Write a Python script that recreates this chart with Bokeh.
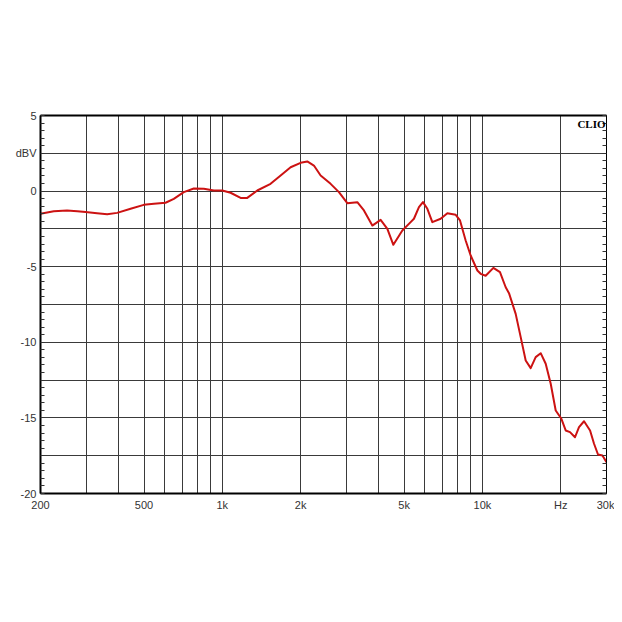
import numpy as np
from bokeh.plotting import figure
from bokeh.models import FixedTicker, LinearAxis, LogAxis, Label, CustomJSTickFormatter
from bokeh.embed import file_html
from bokeh.resources import INLINE

# Frequency response (Hz, dBV)
freq = [200, 225, 253, 277, 298, 330, 361, 394, 444, 499, 546, 605, 651, 711, 777, 849, 928,
        1000, 1076, 1176, 1247, 1363, 1533, 1676, 1831, 2000, 2122, 2250, 2388, 2609, 2808,
        3024, 3304, 3504, 3774, 4062, 4311, 4546, 4922, 5298, 5455, 5702, 5908, 6143, 6420,
        6911, 7333, 7896, 8202, 8623, 9013, 9565, 9848, 10292, 11022, 11684, 12290, 12654,
        13426, 14036, 14671, 15333, 16026, 16755, 17513, 18308, 19136, 20125, 20902, 21720,
        22700, 23520, 24590, 25940, 26870, 27830, 28940, 30000]
level = [-1.50, -1.33, -1.28, -1.33, -1.39, -1.46, -1.53, -1.44, -1.17, -0.91, -0.84, -0.77,
         -0.51, -0.07, 0.17, 0.15, 0.04, 0.04, -0.11, -0.45, -0.45, 0.04, 0.48, 1.03, 1.58,
         1.87, 1.96, 1.69, 1.03, 0.48, -0.07, -0.80, -0.73, -1.28, -2.28, -1.90, -2.50, -3.55,
         -2.61, -2.05, -1.83, -1.06, -0.73, -1.17, -2.05, -1.83, -1.46, -1.57, -1.94, -3.27,
         -4.26, -5.25, -5.47, -5.60, -5.08, -5.36, -6.36, -6.75, -8.12, -9.66, -11.2, -11.71,
         -10.98, -10.72, -11.42, -12.74, -14.51, -15.06, -15.83, -15.94, -16.28, -15.61,
         -15.22, -15.83, -16.71, -17.42, -17.49, -17.93]

x_label_ticks = [200, 500, 1000, 2000, 5000, 10000, 20000, 30000]
x_label_text = ["200", "500", "1k", "2k", "5k", "10k", "Hz", "30k"]
x_grid_ticks = [300, 400, 500, 600, 700, 800, 900, 1000, 2000, 3000, 4000, 5000, 6000,
                7000, 8000, 9000, 10000, 20000]
y_label_ticks = [-20, -15, -10, -5, 0, 2.5, 5]
y_label_text = ["-20", "-15", "-10", "-5", "0", "dBV", "5"]
y_grid_ticks = [-17.5, -15, -12.5, -10, -7.5, -5, -2.5, 0, 2.5]
y_minor = [round(v, 1) for v in np.arange(-20, 5.01, 0.5)]

p = figure(width=614, height=614, x_axis_type="log", x_range=(200, 30000), y_range=(-20, 5),
           output_backend="svg", toolbar_location=None,
           min_border_left=40, min_border_right=8, min_border_top=115, min_border_bottom=121)
p.background_fill_color = "white"
p.border_fill_color = "white"
p.outline_line_color = "black"
p.outline_line_width = 1

font = "Liberation Sans"
# x axis
xa = p.xaxis[0]
xa.ticker = FixedTicker(ticks=x_label_ticks, minor_ticks=[])
xa.major_label_overrides = {float(t): s for t, s in zip(x_label_ticks, x_label_text)}
xa.major_tick_in = 0
xa.major_tick_out = 0
xa.minor_tick_in = 0
xa.minor_tick_out = 0
xa.axis_line_color = "black"
xa.axis_line_width = 2
xa.major_label_standoff = 5
xa.major_label_text_font = font
xa.major_label_text_font_size = "11px"
xa.major_label_text_color = "#333333"

# y axis
ya = p.yaxis[0]
ya.ticker = FixedTicker(ticks=y_label_ticks, minor_ticks=y_minor)
ya.major_label_overrides = {float(t): s for t, s in zip(y_label_ticks, y_label_text)}
ya.major_tick_in = 0
ya.major_tick_out = 0
ya.minor_tick_in = 4
ya.minor_tick_out = 0
ya.minor_tick_line_color = "#333333"
ya.axis_line_color = "black"
ya.axis_line_width = 2
ya.major_label_standoff = 4
ya.major_label_text_font = font
ya.major_label_text_font_size = "11px"
ya.major_label_text_color = "#333333"

# right axis (ticks only)
ra = LinearAxis(ticker=FixedTicker(ticks=[], minor_ticks=y_minor),
                formatter=CustomJSTickFormatter(code="return ''"))
ra.major_tick_in = 0
ra.major_tick_out = 0
ra.minor_tick_in = 4
ra.minor_tick_out = 0
ra.minor_tick_line_color = "#333333"
ra.axis_line_color = "black"
ra.axis_line_width = 1
ra.major_label_text_font_size = "0px"
p.add_layout(ra, "right")

# top axis (thick line only)
ta = LogAxis(ticker=FixedTicker(ticks=[], minor_ticks=[]),
             formatter=CustomJSTickFormatter(code="return ''"))
ta.major_tick_in = 0
ta.major_tick_out = 0
ta.minor_tick_in = 0
ta.minor_tick_out = 0
ta.axis_line_color = "black"
ta.axis_line_width = 2
ta.major_label_text_font_size = "0px"
p.add_layout(ta, "above")

# grids
p.xgrid.ticker = FixedTicker(ticks=x_grid_ticks, minor_ticks=[])
p.ygrid.ticker = FixedTicker(ticks=y_grid_ticks, minor_ticks=[])
for g in (p.xgrid[0], p.ygrid[0]):
    g.grid_line_color = "#3a3a3a"
    g.grid_line_width = 1
    g.grid_line_alpha = 1.0

p.line(freq, level, line_color="#cc1212", line_width=2, line_join="round")

p.add_layout(Label(x=30000, y=5, x_offset=-1, y_offset=-2, text="CLIO",
                   text_align="right", text_baseline="top",
                   text_font="Liberation Serif", text_font_style="bold",
                   text_font_size="11px", text_color="black"))

open("out.html", "w").write(file_html(p, INLINE))
